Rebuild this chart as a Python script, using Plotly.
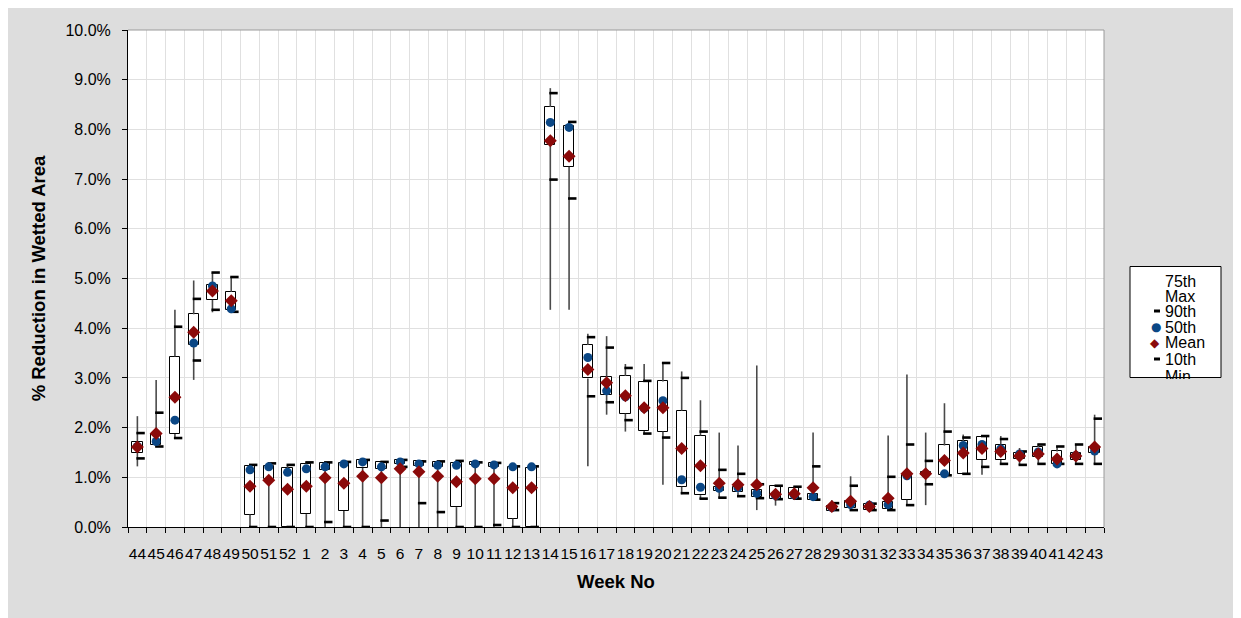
import plotly.graph_objects as go

# ---- data (values in % reduction) ----
weeks = ["44", "45", "46", "47", "48", "49", "50", "51", "52"] + [str(w) for w in range(1, 44)]

v_min = [1.22, 1.62, 1.79, 2.96, 4.32, 4.32, 0.00, 0.00, 0.00,
         0.00, 0.00, 0.00, 0.00, 0.00, 0.00, 0.00, 0.00, 0.00, 0.00, 0.00, 0.00, 0.00,
         4.37, 4.37, 1.22, 2.26, 1.92, 1.86, 0.85, 0.66, 0.56, 0.59, 0.62, 0.34,
         0.43, 0.56, 0.53, 0.33, 0.33, 0.33, 0.33, 0.44, 0.44, 1.04, 1.07, 1.05,
         1.27, 1.25, 1.27, 1.21, 1.25, 1.27]
v_p10 = [1.38, 1.62, 1.79, 3.35, 4.37, 4.33, 0.00, 0.00, 0.00,
         0.00, 0.10, 0.00, 0.00, 0.13, 1.21, 0.48, 0.30, 0.00, 0.00, 0.04, 0.00, 0.00,
         6.99, 6.61, 2.63, 2.51, 2.15, 1.88, 1.80, 0.68, 0.57, 0.59, 0.62, 0.58,
         0.56, 0.57, 0.55, 0.34, 0.34, 0.34, 0.34, 0.44, 0.86, 1.04, 1.07, 1.21,
         1.27, 1.25, 1.27, 1.27, 1.27, 1.27]
v_q1 = [1.49, 1.66, 1.87, 3.66, 4.57, 4.37, 0.25, 0.97, 0.00,
        0.26, 1.15, 0.32, 1.19, 1.17, 1.27, 1.23, 1.20, 0.40, 1.24, 1.21, 0.17, 0.00,
        7.69, 7.25, 2.99, 2.66, 2.28, 1.93, 1.92, 0.81, 0.64, 0.72, 0.70, 0.60,
        0.56, 0.56, 0.54, 0.33, 0.38, 0.34, 0.36, 0.55, 1.04, 1.05, 1.07, 1.35,
        1.35, 1.37, 1.41, 1.27, 1.35, 1.49]
v_median = [1.62, 1.72, 2.15, 3.70, 4.85, 4.39, 1.15, 1.21, 1.10,
            1.17, 1.21, 1.27, 1.31, 1.21, 1.31, 1.27, 1.24, 1.24, 1.27, 1.25, 1.21, 1.21,
            8.14, 8.04, 3.41, 2.74, 2.62, 2.39, 2.54, 0.95, 0.80, 0.78, 0.79, 0.68,
            0.63, 0.64, 0.61, 0.39, 0.45, 0.44, 0.45, 1.03, 1.07, 1.07, 1.64, 1.66,
            1.57, 1.47, 1.51, 1.27, 1.44, 1.53]
v_mean = [1.61, 1.88, 2.61, 3.92, 4.75, 4.55, 0.82, 0.94, 0.76,
          0.82, 0.99, 0.88, 1.02, 0.99, 1.17, 1.11, 1.02, 0.91, 0.97, 0.97, 0.79, 0.79,
          7.77, 7.46, 3.17, 2.90, 2.64, 2.40, 2.40, 1.58, 1.23, 0.88, 0.85, 0.85,
          0.66, 0.67, 0.79, 0.41, 0.52, 0.41, 0.58, 1.07, 1.07, 1.34, 1.49, 1.58,
          1.52, 1.43, 1.47, 1.37, 1.43, 1.61]
v_q3 = [1.72, 1.87, 3.43, 4.28, 4.86, 4.73, 1.22, 1.23, 1.19,
        1.27, 1.29, 1.29, 1.35, 1.30, 1.34, 1.32, 1.31, 1.28, 1.30, 1.28, 1.20, 1.19,
        8.45, 8.06, 3.66, 3.02, 3.04, 2.92, 2.93, 2.34, 1.84, 0.80, 0.80, 0.75,
        0.82, 0.79, 0.67, 0.43, 0.52, 0.46, 0.50, 1.04, 1.10, 1.64, 1.73, 1.81,
        1.66, 1.49, 1.61, 1.52, 1.49, 1.61]
v_p90 = [1.89, 2.30, 4.03, 4.59, 5.12, 5.03, 1.25, 1.28, 1.25,
         1.30, 1.30, 1.31, 1.35, 1.31, 1.35, 1.32, 1.32, 1.33, 1.30, 1.29, 1.22, 1.22,
         8.73, 8.15, 3.82, 3.61, 3.20, 2.94, 3.30, 3.00, 1.92, 1.15, 1.07, 0.86,
         0.83, 0.81, 1.22, 0.48, 0.83, 0.47, 1.01, 1.66, 1.33, 1.92, 1.80, 1.83,
         1.77, 1.52, 1.66, 1.62, 1.66, 2.18]
v_max = [2.23, 2.96, 4.37, 4.96, 5.12, 5.03, 1.25, 1.28, 1.25,
         1.31, 1.31, 1.31, 1.36, 1.31, 1.35, 1.33, 1.33, 1.34, 1.31, 1.30, 1.23, 1.23,
         8.83, 8.15, 3.89, 3.84, 3.28, 3.28, 3.31, 3.13, 2.55, 1.90, 1.64, 3.25,
         0.84, 0.82, 1.90, 0.54, 1.02, 0.52, 1.84, 3.07, 1.90, 2.49, 1.86, 1.85,
         1.83, 1.59, 1.66, 1.62, 1.66, 2.26]

legend_labels = ["75th", "Max", "90th", "50th", "Mean", "10th", "Min"]

# ---- styling ----
FONT = "Liberation Sans, Arial, sans-serif"
BLUE = "#0b4785"
RED = "#8b0a0a"
OFF = 8                       # page offset of the figure in the screenshot
W, H = 1241 - OFF, 618 - OFF
SL, SR, ST, SB = 128, 1104, 30, 527      # plot area in screenshot pixels
L, R, T, B = SL - OFF, SR - OFF, ST - OFF, SB - OFF


def px(x):   # screenshot x -> paper
    return (x - SL) / (SR - SL)


def py(y):   # screenshot y -> paper
    return (SB - y) / (SB - ST)


idx = list(range(len(weeks)))

# whiskers (drawn in two pieces so they do not cross the box)
wx, wy = [], []
for i in idx:
    wx += [i, i, None, i, i, None]
    wy += [v_min[i], v_q1[i], None, v_q3[i], v_max[i], None]

fig = go.Figure()

fig.add_trace(go.Bar(
    x=idx, y=[v_q3[i] - v_q1[i] for i in idx], base=v_q1, width=0.55,
    marker=dict(color="white", line=dict(color="black", width=1)),
    showlegend=False, hoverinfo="skip"))

fig.add_trace(go.Scatter(
    x=wx, y=wy, mode="lines", line=dict(color="#4a4a4a", width=1.6),
    showlegend=False, hoverinfo="skip"))

for vals in (v_p90, v_p10):
    fig.add_trace(go.Scatter(
        x=[i + 0.17 for i in idx], y=vals, mode="markers",
        marker=dict(symbol="line-ew", size=6, line=dict(color="black", width=2.6)),
        showlegend=False))

fig.add_trace(go.Scatter(
    x=idx, y=v_median, mode="markers",
    marker=dict(symbol="circle", size=9, color=BLUE), showlegend=False))
fig.add_trace(go.Scatter(
    x=idx, y=v_mean, mode="markers",
    marker=dict(symbol="diamond", size=10, color=RED), showlegend=False))

# ---- shapes ----
shapes = [
    dict(type="line", xref="paper", yref="paper", x0=1, x1=1, y0=0, y1=1,
         line=dict(color="#9a9a9a", width=1), layer="above"),
    dict(type="line", xref="paper", yref="paper", x0=0, x1=1, y0=1, y1=1,
         line=dict(color="#9a9a9a", width=1), layer="above"),
    # legend box
    dict(type="rect", xref="paper", yref="paper", x0=px(1130), x1=px(1221), y0=py(377.5), y1=py(266.5),
         fillcolor="white", line=dict(color="black", width=1), layer="above"),
]
for yc in (311, 359):
    shapes.append(dict(type="rect", xref="paper", yref="paper", x0=px(1154), x1=px(1160),
                       y0=py(yc + 1.5), y1=py(yc - 1.5), fillcolor="black", line=dict(width=0),
                       layer="above"))

annotations = []
text_y = [281, 296, 311, 327, 342, 359]
for lab, yc in zip(legend_labels[:-1], text_y):
    annotations.append(dict(xref="paper", yref="paper", x=px(1163), y=py(yc), text=lab,
                            showarrow=False, xanchor="left", yanchor="middle",
                            font=dict(family=FONT, size=16, color="black")))
annotations.append(dict(xref="paper", yref="paper", x=px(1163), y=py(366), text=legend_labels[-1],
                        showarrow=False, xanchor="left", yanchor="top", valign="top", height=11,
                        font=dict(family=FONT, size=16, color="black")))
annotations.append(dict(xref="paper", yref="paper", x=px(1155.5), y=py(327), text="●",
                        showarrow=False, xanchor="center", yanchor="middle",
                        font=dict(family="DejaVu Sans", size=12, color=BLUE)))
annotations.append(dict(xref="paper", yref="paper", x=px(1155), y=py(342.5), text="◆",
                        showarrow=False, xanchor="center", yanchor="middle",
                        font=dict(family="DejaVu Sans", size=12, color=RED)))

fig.update_layout(
    width=W, height=H,
    margin=dict(l=L, r=W - R, t=T, b=H - B, pad=0, autoexpand=False),
    paper_bgcolor="#dddddd", plot_bgcolor="white",
    barmode="overlay", bargap=0,
    showlegend=False,
    shapes=shapes, annotations=annotations,
    font=dict(family=FONT, color="black"),
)

fig.update_xaxes(
    range=[-0.5, len(weeks) - 0.5],
    tickmode="array", tickvals=idx, ticktext=weeks, tickangle=0,
    ticks="", showgrid=False, ticklabelstandoff=12,
    tickfont=dict(family=FONT, size=15.5, color="black"),
    showline=True, linecolor="black", linewidth=1,
    minor=dict(tickmode="array", tickvals=[i - 0.5 for i in range(len(weeks) + 1)],
               ticks="outside", ticklen=5, tickcolor="black", tickwidth=1,
               showgrid=True, gridcolor="#e0e0e0", gridwidth=1),
    title=dict(text="<b>Week No</b>", font=dict(family=FONT, size=18.5, color="black"), standoff=14),
    zeroline=False,
)
fig.update_yaxes(
    range=[0, 10], tickmode="linear", tick0=0, dtick=1,
    tickformat=".1f", ticksuffix="%",
    ticks="outside", ticklen=5, tickcolor="black", ticklabelstandoff=8,
    tickfont=dict(family=FONT, size=16, color="black"),
    showgrid=True, gridcolor="#e0e0e0", gridwidth=1,
    showline=True, linecolor="black", linewidth=1,
    title=dict(text="<b>% Reduction in Wetted Area</b>", font=dict(family=FONT, size=18.5, color="black"),
               standoff=14),
    zeroline=False,
)

fig.write_html("out.html")
